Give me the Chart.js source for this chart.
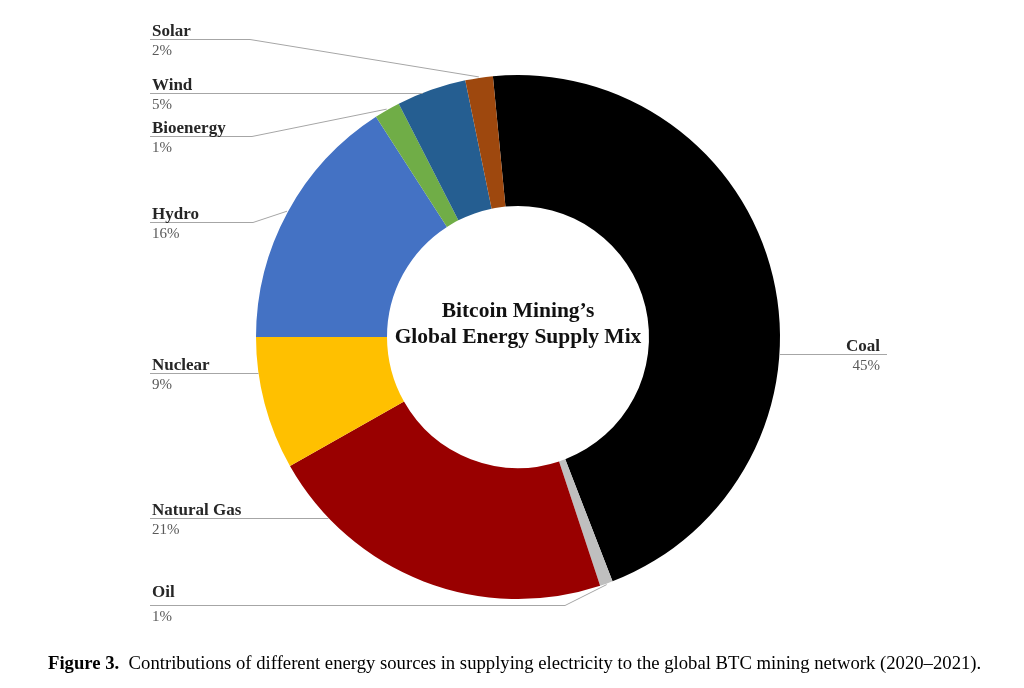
<!DOCTYPE html>
<html>
<head>
<meta charset="utf-8">
<script src="https://cdn.jsdelivr.net/npm/chart.js@4/dist/chart.umd.min.js"></script>
<style>
  html, body { margin: 0; padding: 0; background: #fff; }
  #wrap { position: relative; width: 1024px; height: 688px; overflow: hidden; }
  #caption {
    position: absolute; left: 48px; top: 652px;
    font-family: "Liberation Serif", serif; font-size: 19px; line-height: 22px; color: #000; white-space: nowrap;
    transform: scaleX(0.983); transform-origin: left top;
  }
</style>
</head>
<body>
<div id="wrap">
  <canvas id="mix" width="1024" height="688"></canvas>
  <div id="caption"><b>Figure 3.</b>&nbsp; Contributions of different energy sources in supplying electricity to the global BTC mining network (2020–2021).</div>
</div>
<script>
// datos (orden horario desde arriba)
var fuentes = ["Coal", "Oil", "Natural Gas", "Nuclear", "Hydro", "Bioenergy", "Wind", "Solar"];
var participacion = [45.7, 0.8, 21.9, 8.2, 15.9, 1.6, 4.3, 1.7];
var etiquetasPct = ["45%", "1%", "21%", "9%", "16%", "1%", "5%", "2%"];
var colores = ["#000000", "#BFBFBF", "#990000", "#FFC000", "#4472C4", "#70AD47", "#255E91", "#9E480E"];

// donde va cada etiqueta (solo diseño)
var posEtiquetas = [
  { lado: "der", lineaY: 354, textoX: 880, finLinea: 887 },
  { lado: "izq", lineaY: 605, codoX: 565 },
  { lado: "izq", lineaY: 518, codoX: 252 },
  { lado: "izq", lineaY: 373, codoX: 252 },
  { lado: "izq", lineaY: 222, codoX: 253, codo: true },
  { lado: "izq", lineaY: 136, codoX: 252 },
  { lado: "izq", lineaY: 93, codoX: 252 },
  { lado: "izq", lineaY: 39, codoX: 250 }
];

var pluginEtiquetas = {
  id: "etiquetas",
  afterDatasetsDraw: function (chart) {
    var ctx = chart.ctx;
    var arcos = chart.getDatasetMeta(0).data;
    ctx.save();
    for (var i = 0; i < arcos.length; i++) {
      var a = arcos[i];
      var p = posEtiquetas[i];
      var r = a.outerRadius;
      var dy = p.lineaY - a.y;
      var finX = null, finY = p.lineaY, recto = false;
      // si la linea horizontal toca su propio arco, va recta
      if (!p.codo && Math.abs(dy) < r) {
        var dx = Math.sqrt(r * r - dy * dy) * (p.lado == "izq" ? -1 : 1);
        var ang = Math.atan2(dy, dx);
        while (ang < a.startAngle) ang += Math.PI * 2;
        if (ang <= a.endAngle) { finX = a.x + dx; recto = true; }
      }
      if (!recto) {
        var medio = (a.startAngle + a.endAngle) / 2;
        finX = a.x + (r + 1) * Math.cos(medio);
        finY = a.y + (r + 1) * Math.sin(medio);
      }
      ctx.strokeStyle = "#A6A6A6";
      ctx.lineWidth = 1;
      ctx.beginPath();
      if (p.lado == "izq") {
        ctx.moveTo(150, p.lineaY + 0.5);
        if (!recto) ctx.lineTo(p.codoX, p.lineaY + 0.5);
        ctx.lineTo(finX, finY + (recto ? 0.5 : 0));
      } else {
        ctx.moveTo(finX, p.lineaY + 0.5);
        ctx.lineTo(p.finLinea, p.lineaY + 0.5);
      }
      ctx.stroke();

      var nombreY = (i == 1) ? p.lineaY - 8 : p.lineaY - 3;
      var pctY = p.lineaY + 16;
      ctx.textAlign = p.lado == "izq" ? "left" : "right";
      var tx = p.lado == "izq" ? 152 : p.textoX;
      ctx.textBaseline = "alphabetic";
      ctx.fillStyle = "#262626";
      ctx.font = "bold 17px 'Liberation Serif'";
      ctx.fillText(fuentes[i], tx, nombreY);
      ctx.fillStyle = "#595959";
      ctx.font = "15px 'Liberation Serif'";
      ctx.fillText(etiquetasPct[i], tx, pctY);
    }
    // titulo del centro
    var c = arcos[0];
    ctx.textAlign = "center";
    ctx.fillStyle = "#111";
    ctx.font = "bold 21.5px 'Liberation Serif'";
    ctx.fillText("Bitcoin Mining’s", c.x, 317);
    ctx.fillText("Global Energy Supply Mix", c.x, 343);
    ctx.restore();
  }
};

var ctxMix = document.getElementById("mix").getContext("2d");
var grafMix = new Chart(ctxMix, {
  type: "doughnut",
  data: {
    labels: fuentes,
    datasets: [{
      data: participacion,
      backgroundColor: colores,
      borderWidth: 0
    }]
  },
  options: {
    responsive: false,
    animation: false,
    rotation: -5.5,
    cutout: "50%",
    layout: { padding: { top: 75, bottom: 89, left: 100, right: 88 } },
    plugins: {
      legend: { display: false },
      tooltip: { enabled: false }
    }
  },
  plugins: [pluginEtiquetas]
});
</script>
</body>
</html>
